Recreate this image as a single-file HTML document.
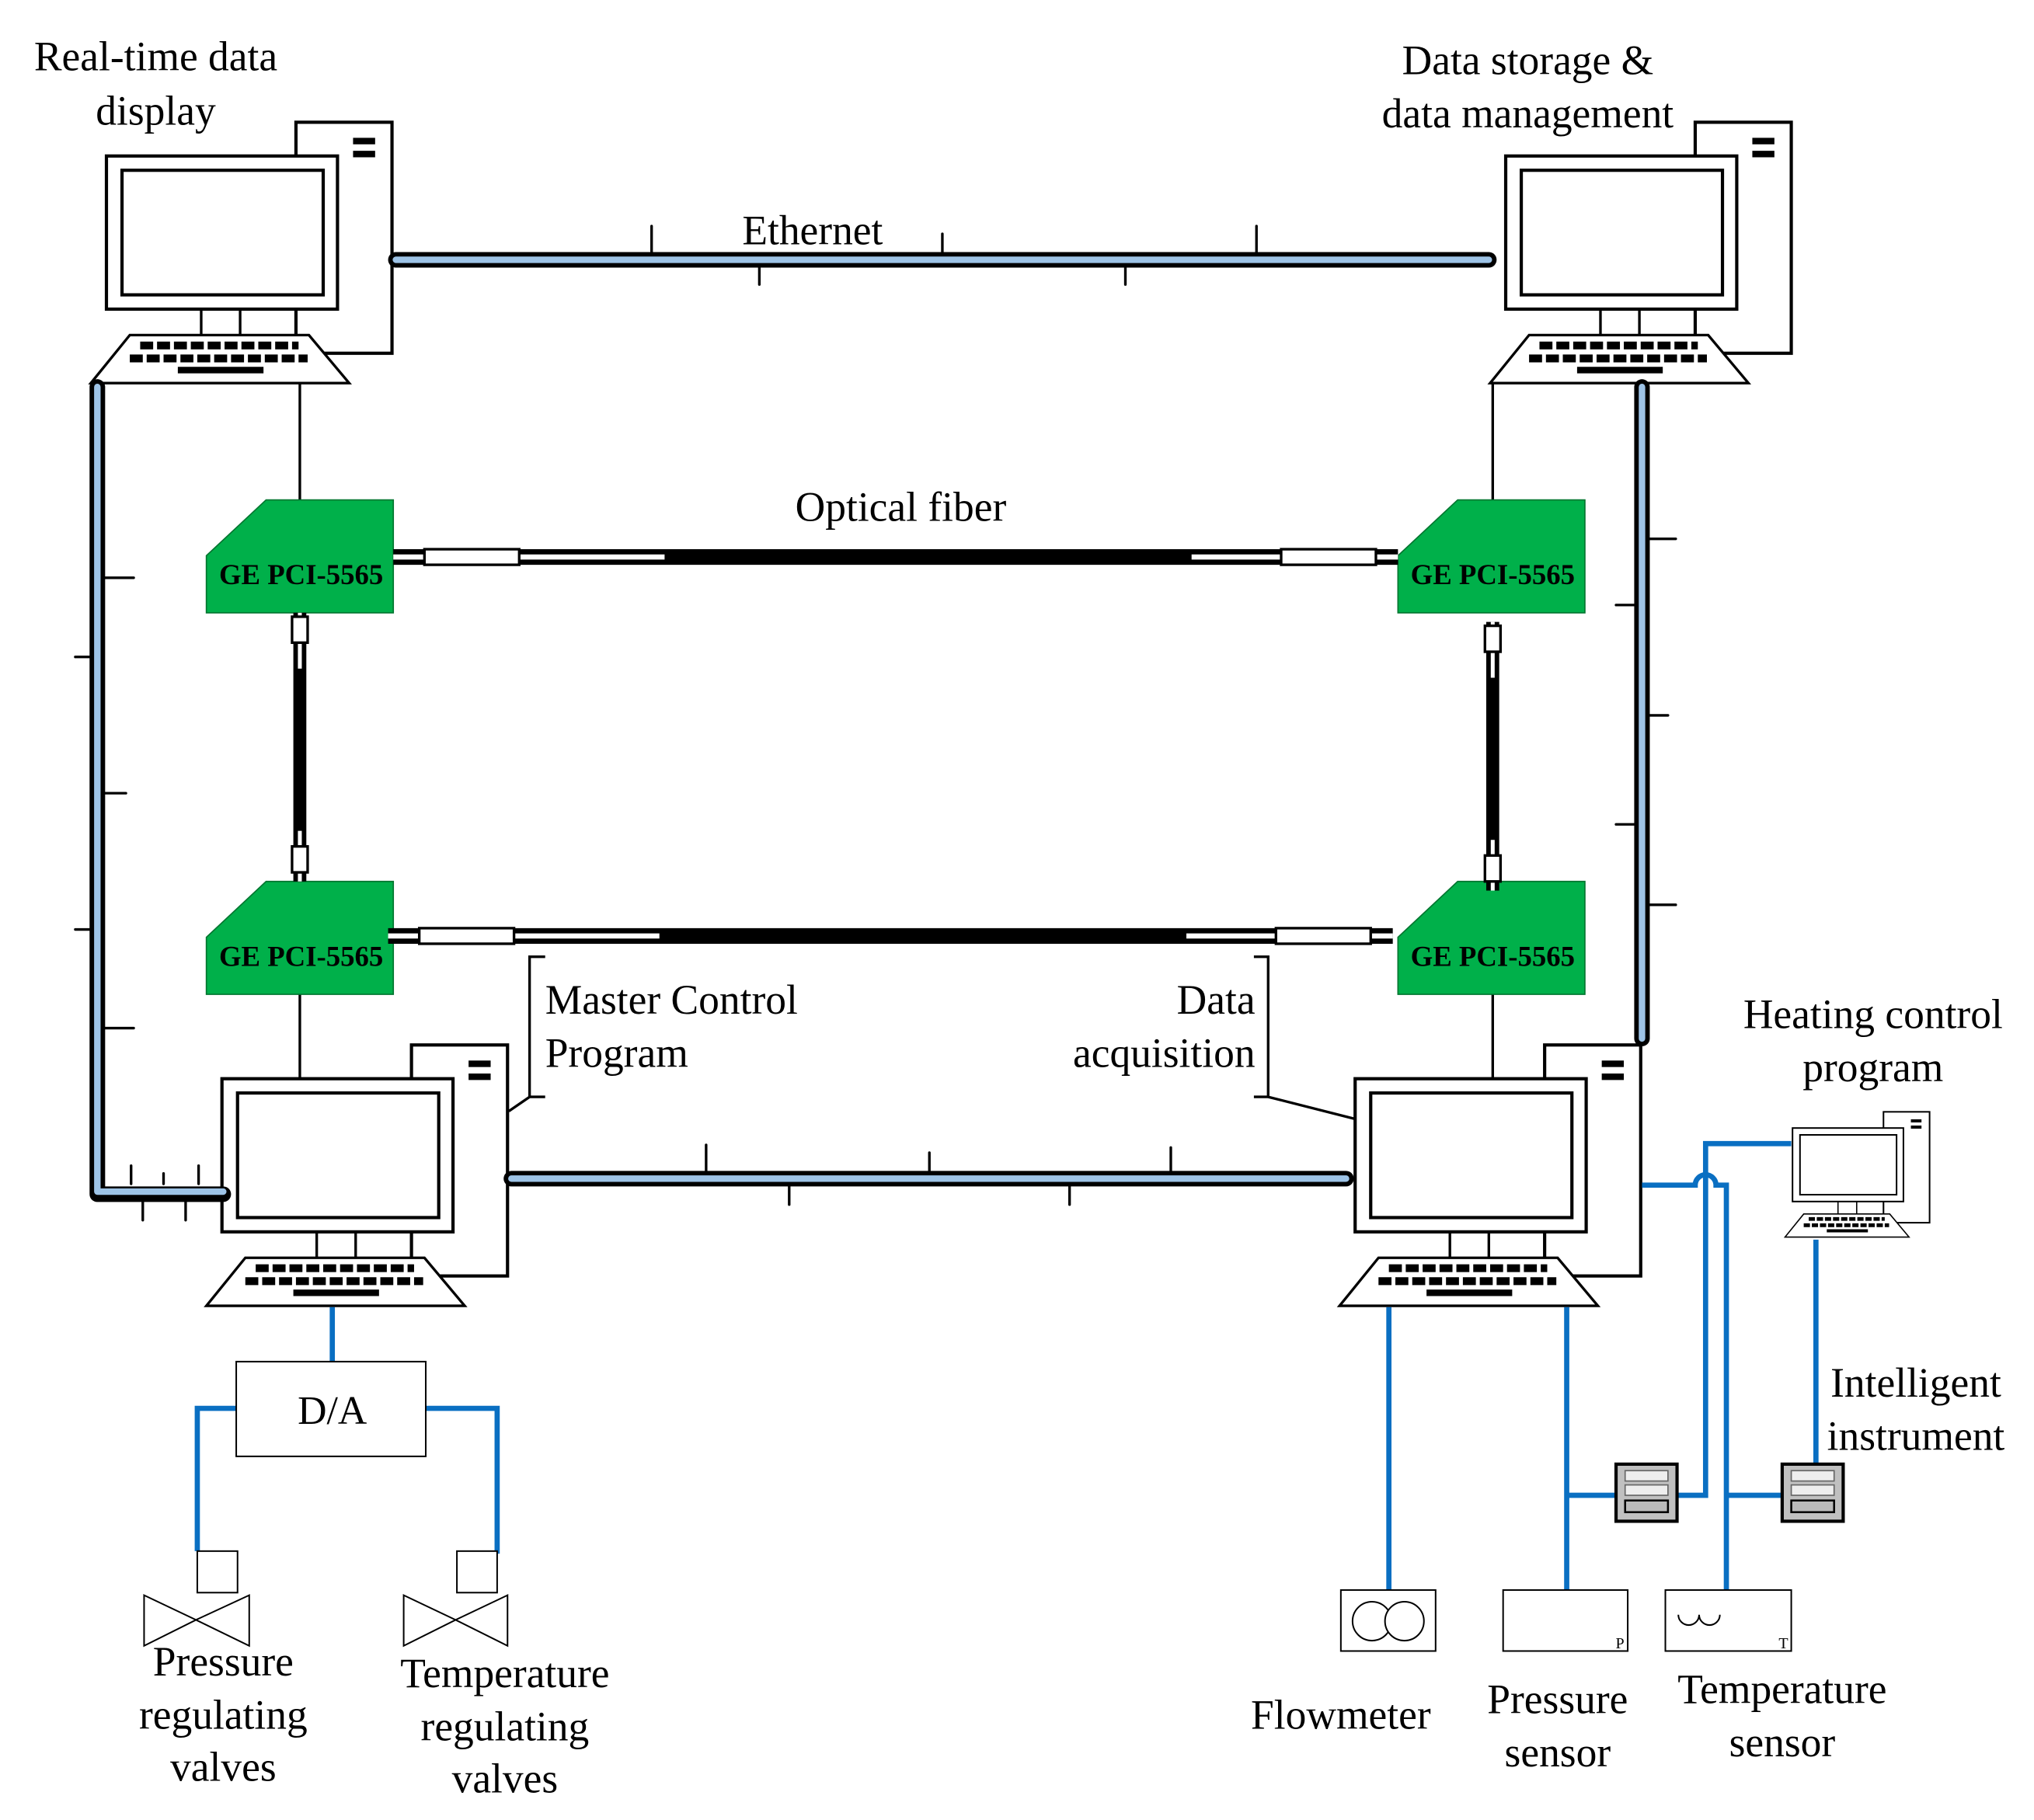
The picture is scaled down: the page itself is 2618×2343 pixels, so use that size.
<!DOCTYPE html>
<html><head><meta charset="utf-8"><style>
html,body{margin:0;padding:0;background:#fff}
svg{display:block}
text{font-family:"Liberation Serif",serif;fill:#000}
</style></head><body>
<svg width="2618" height="2343" viewBox="0 0 1567 1402" xmlns="http://www.w3.org/2000/svg">
<defs>
<g id="pc">
  <rect x="228" y="94" width="74" height="178" fill="#fff" stroke="#000" stroke-width="2.5"/>
  <rect x="272" y="106" width="17" height="5" fill="#000"/>
  <rect x="272" y="116" width="17" height="5" fill="#000"/>
  <rect x="82" y="120" width="178" height="118" fill="#fff" stroke="#000" stroke-width="2.5"/>
  <rect x="94" y="131" width="155" height="96" fill="#fff" stroke="#000" stroke-width="2.5"/>
  <line x1="155" y1="238" x2="155" y2="258" stroke="#000" stroke-width="2"/>
  <line x1="185" y1="238" x2="185" y2="258" stroke="#000" stroke-width="2"/>
  <line x1="228" y1="238" x2="228" y2="258" stroke="#000" stroke-width="2"/>
  <polygon points="100,258 238,258 269,295 70,295" fill="#fff" stroke="#000" stroke-width="2"/>
  <line x1="108" y1="266" x2="230" y2="266" stroke="#000" stroke-width="6" stroke-dasharray="10,3"/>
  <line x1="100" y1="276" x2="237" y2="276" stroke="#000" stroke-width="6" stroke-dasharray="10,3"/>
  <line x1="137" y1="285" x2="203" y2="285" stroke="#000" stroke-width="5"/>
</g>
<g id="ge">
  <polygon points="205,385 303,385 303,472 159,472 159,428" fill="#00b04a" stroke="#00752f" stroke-width="1"/>
  <text x="232" y="450" font-size="22" font-weight="bold" text-anchor="middle">GE PCI-5565</text>
</g>
<g id="inst">
  <rect x="0" y="0" width="47" height="44" fill="#c0c0c0" stroke="#000" stroke-width="2.5"/>
  <rect x="7" y="5" width="33" height="8" fill="#eee" stroke="#666" stroke-width="1"/>
  <rect x="7" y="16" width="33" height="8" fill="#eee" stroke="#666" stroke-width="1"/>
  <rect x="7" y="28" width="33" height="9" fill="#bbb" stroke="#000" stroke-width="1.5"/>
</g>
</defs>

<use href="#pc"/>
<use href="#pc" transform="translate(1078,0)"/>
<use href="#pc" transform="translate(89,711)"/>
<use href="#pc" transform="translate(962,711)"/>
<use href="#pc" transform="translate(1341.6,811.4) scale(0.48)"/>

<g stroke="#000" stroke-width="2" fill="none">
  <line x1="231" y1="295" x2="231" y2="385"/>
  <line x1="1150" y1="295" x2="1150" y2="385"/>
  <line x1="231" y1="765" x2="231" y2="831"/>
  <line x1="1150" y1="765" x2="1150" y2="831"/>
  <polyline points="420,737 408,737 408,845 420,845"/>
  <line x1="408" y1="845" x2="392" y2="856"/>
  <polyline points="966,737 977,737 977,845 966,845"/>
  <line x1="977" y1="845" x2="1044" y2="862"/>
</g>

<use href="#ge"/>
<use href="#ge" transform="translate(0,294)"/>
<use href="#ge" transform="translate(918,0)"/>
<use href="#ge" transform="translate(918,294)"/>

<g>
  <g id="fibH">
    <line x1="303" y1="429" x2="1077" y2="429" stroke="#000" stroke-width="12"/>
    <line x1="303" y1="429" x2="512" y2="429" stroke="#fff" stroke-width="4"/>
    <line x1="918" y1="429" x2="1077" y2="429" stroke="#fff" stroke-width="4"/>
    <rect x="327" y="423" width="73" height="12" fill="#fff" stroke="#000" stroke-width="2"/>
    <rect x="987" y="423" width="73" height="12" fill="#fff" stroke="#000" stroke-width="2"/>
  </g>
  <use href="#fibH" transform="translate(-4,292)"/>
  <g id="fibV">
    <line x1="231" y1="472" x2="231" y2="679" stroke="#000" stroke-width="10"/>
    <line x1="231" y1="472" x2="231" y2="515" stroke="#fff" stroke-width="3"/>
    <line x1="231" y1="640" x2="231" y2="679" stroke="#fff" stroke-width="3"/>
    <rect x="225" y="475" width="12" height="20" fill="#fff" stroke="#000" stroke-width="2"/>
    <rect x="225" y="652" width="12" height="20" fill="#fff" stroke="#000" stroke-width="2"/>
  </g>
  <use href="#fibV" transform="translate(919,7)"/>
</g>

<g fill="none" stroke-linecap="round" stroke-linejoin="round">
  <g stroke="#000" stroke-width="2">
    <line x1="502" y1="174" x2="502" y2="194"/><line x1="726" y1="180" x2="726" y2="194"/><line x1="968" y1="174" x2="968" y2="194"/>
    <line x1="585" y1="206" x2="585" y2="219"/><line x1="867" y1="206" x2="867" y2="219"/>
    <line x1="81" y1="445" x2="103" y2="445"/><line x1="81" y1="611" x2="97" y2="611"/><line x1="81" y1="792" x2="103" y2="792"/>
    <line x1="58" y1="506" x2="70" y2="506"/><line x1="58" y1="716" x2="70" y2="716"/>
    <line x1="101" y1="898" x2="101" y2="912"/><line x1="126" y1="904" x2="126" y2="912"/><line x1="153" y1="898" x2="153" y2="912"/>
    <line x1="110" y1="924" x2="110" y2="940"/><line x1="143" y1="924" x2="143" y2="940"/>
    <line x1="544" y1="882" x2="544" y2="902"/><line x1="716" y1="888" x2="716" y2="902"/><line x1="902" y1="884" x2="902" y2="902"/>
    <line x1="608" y1="914" x2="608" y2="928"/><line x1="824" y1="914" x2="824" y2="928"/>
    <line x1="1271" y1="415" x2="1291" y2="415"/><line x1="1271" y1="551" x2="1285" y2="551"/><line x1="1271" y1="697" x2="1291" y2="697"/>
    <line x1="1245" y1="466" x2="1259" y2="466"/><line x1="1245" y1="635" x2="1259" y2="635"/>
  </g>
  <g stroke="#000" stroke-width="12">
    <line x1="305" y1="200" x2="1147" y2="200"/>
    <polyline points="75,298 75,920 172,920"/>
    <line x1="394" y1="908" x2="1037" y2="908"/>
    <line x1="1265" y1="298" x2="1265" y2="800"/>
  </g>
  <g stroke="#9dc3e6" stroke-width="5">
    <line x1="305" y1="200" x2="1147" y2="200"/>
    <polyline points="75,298 75,918 172,918"/>
    <line x1="394" y1="908" x2="1037" y2="908"/>
    <line x1="1265" y1="298" x2="1265" y2="800"/>
  </g>
</g>

<g stroke="#0a6fc2" stroke-width="4" fill="none">
  <line x1="256" y1="1007" x2="256" y2="1049"/>
  <polyline points="182,1085 152,1085 152,1195"/>
  <polyline points="328,1085 383,1085 383,1197"/>
  <line x1="1070" y1="1007" x2="1070" y2="1225"/>
  <line x1="1207" y1="1007" x2="1207" y2="1225"/>
  <line x1="1207" y1="1152" x2="1245" y2="1152"/>
  <path d="M1265,913 H1306 A8 8 0 0 1 1322,913 H1330 V1225"/>
  <polyline points="1380,881 1314,881 1314,1152 1292,1152"/>
  <line x1="1330" y1="1152" x2="1373" y2="1152"/>
  <line x1="1399" y1="955" x2="1399" y2="1128"/>
</g>

<use href="#inst" transform="translate(1245,1128)"/>
<use href="#inst" transform="translate(1373,1128)"/>

<rect x="182" y="1049" width="146" height="73" fill="#fff" stroke="#000" stroke-width="1.2"/>
<text x="256" y="1097" font-size="31" text-anchor="middle">D/A</text>

<g fill="#fff" stroke="#000" stroke-width="1.2">
  <rect x="152" y="1195" width="31" height="32"/>
  <polygon points="111,1229 151,1248 111,1268"/><polygon points="192,1229 151,1248 192,1268"/>
  <rect x="352" y="1195" width="31" height="32"/>
  <polygon points="311,1229 351,1248 311,1268"/><polygon points="391,1229 351,1248 391,1268"/>
</g>

<g fill="#fff" stroke="#000" stroke-width="1.2">
  <rect x="1033" y="1225" width="73" height="47"/>
  <circle cx="1057" cy="1249" r="15"/><circle cx="1082" cy="1249" r="15"/>
  <rect x="1158" y="1225" width="96" height="47"/>
  <rect x="1283" y="1225" width="97" height="47"/>
  <path d="M1293,1244 a8 8 0 0 0 16 0 a8 8 0 0 0 16 0" fill="none"/>
</g>
<text x="1248" y="1270" font-size="12" text-anchor="middle">P</text>
<text x="1374" y="1270" font-size="12" text-anchor="middle">T</text>

<g font-size="32" text-anchor="middle">
  <text x="120" y="54">Real-time data</text>
  <text x="120" y="96">display</text>
  <text x="1177" y="57">Data storage &amp;</text>
  <text x="1177" y="98">data management</text>
  <text x="626" y="188">Ethernet</text>
  <text x="694" y="401">Optical fiber</text>
  <text x="420" y="781" text-anchor="start">Master Control</text>
  <text x="420" y="822" text-anchor="start">Program</text>
  <text x="967" y="781" text-anchor="end">Data</text>
  <text x="967" y="822" text-anchor="end">acquisition</text>
  <text x="1443" y="792">Heating control</text>
  <text x="1443" y="833">program</text>
  <text x="1476" y="1076">Intelligent</text>
  <text x="1476" y="1117">instrument</text>
  <text x="172" y="1291">Pressure</text>
  <text x="172" y="1332">regulating</text>
  <text x="172" y="1372">valves</text>
  <text x="389" y="1300">Temperature</text>
  <text x="389" y="1341">regulating</text>
  <text x="389" y="1381">valves</text>
  <text x="1033" y="1332">Flowmeter</text>
  <text x="1200" y="1320">Pressure</text>
  <text x="1200" y="1361">sensor</text>
  <text x="1373" y="1312">Temperature</text>
  <text x="1373" y="1353">sensor</text>
</g>
</svg>
</body></html>
